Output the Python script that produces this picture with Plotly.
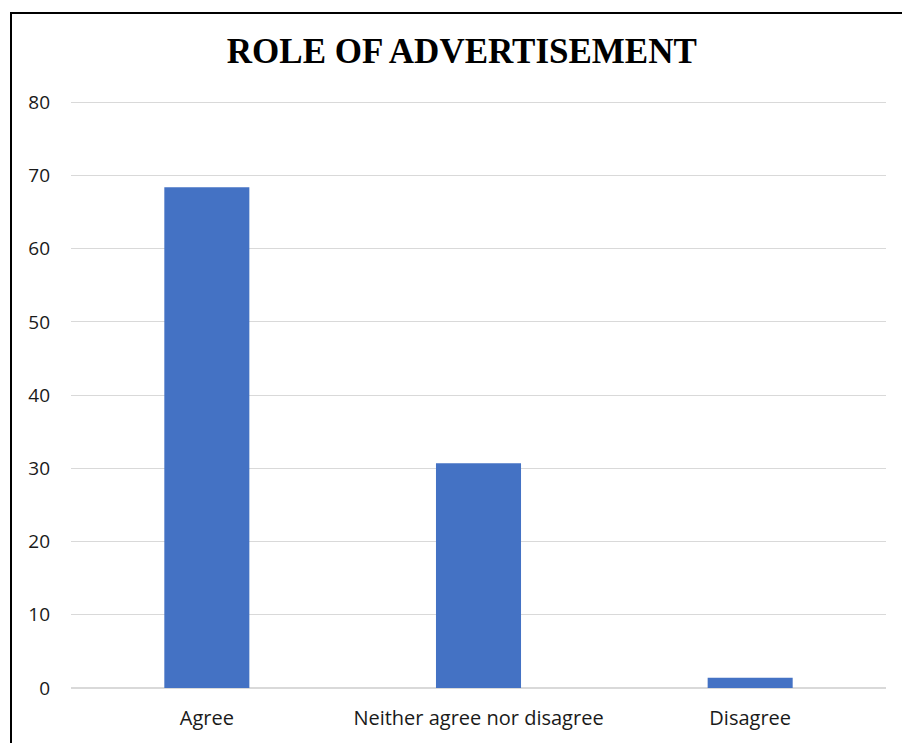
import plotly.graph_objects as go

categories = ["Agree", "Neither agree nor disagree", "Disagree"]
values = [68.4, 30.7, 1.4]
y_ticks = [0, 10, 20, 30, 40, 50, 60, 70, 80]
title_text = "ROLE OF ADVERTISEMENT"

W, H = 902, 743
Y_TOP = 81  # small headroom so the 80 gridline is drawn
L, R, B = 71, 16, 55
ph = round(586 * Y_TOP / 80)
T = H - B - ph
pw = W - L - R


def px_to_paper_x(px):
    return (px - L) / pw


def px_to_paper_y(py):
    return (H - B - py) / ph


fig = go.Figure(
    go.Bar(
        x=categories,
        y=values,
        marker=dict(color="#4472C4", line=dict(width=0)),
        hoverinfo="x+y",
    )
)

fig.update_layout(
    width=W,
    height=H,
    margin=dict(l=L, r=R, t=T, b=B, pad=0),
    paper_bgcolor="white",
    plot_bgcolor="white",
    bargap=0.687,
    showlegend=False,
    font=dict(family="Open Sans", color="#1a1a1a"),
    title=dict(
        text="<b>" + title_text + "</b>",
        x=0.512,
        xanchor="center",
        y=1 - 51 / H,
        yanchor="middle",
        font=dict(family="Liberation Serif", size=35, color="black"),
    ),
    xaxis=dict(
        showgrid=False,
        showline=False,
        zeroline=False,
        tickfont=dict(size=20, color="#1a1a1a"),
        ticks="",
        ticklabelstandoff=16,
    ),
    yaxis=dict(
        range=[0, Y_TOP],
        tickvals=y_ticks,
        showgrid=True,
        gridcolor="#d9d9d9",
        gridwidth=1.2,
        zeroline=True,
        zerolinecolor="#d9d9d9",
        zerolinewidth=1.5,
        showline=False,
        ticks="",
        tickfont=dict(size=19, color="#1a1a1a"),
        ticklabelstandoff=20,
    ),
    shapes=[
        dict(
            type="rect",
            xref="paper",
            yref="paper",
            x0=px_to_paper_x(11),
            x1=px_to_paper_x(W + 20),
            y0=px_to_paper_y(H + 20),
            y1=px_to_paper_y(13),
            line=dict(color="black", width=2),
            fillcolor="rgba(0,0,0,0)",
            layer="above",
        )
    ],
)

fig.write_html("out.html")
